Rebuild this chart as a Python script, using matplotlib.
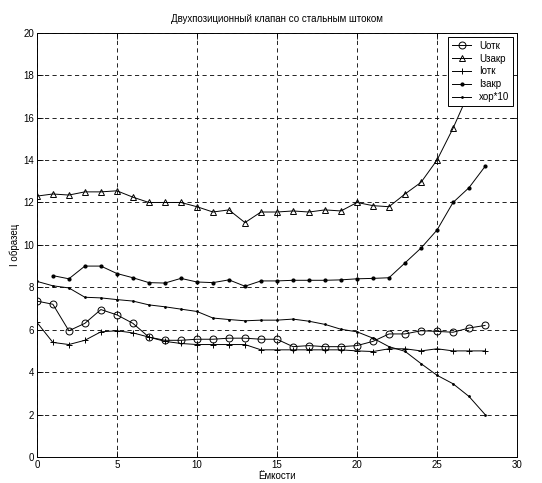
import numpy as np
import matplotlib
matplotlib.use("Agg")
import matplotlib.pyplot as plt

# Values (x = 0..28)
x = np.arange(29)

u_otk = [7.35, 7.2, 5.95, 6.3, 6.95, 6.7, 6.3, 5.65, 5.5, 5.5,
         5.55, 5.55, 5.6, 5.6, 5.55, 5.55, 5.2, 5.25, 5.2, 5.2,
         5.25, 5.45, 5.8, 5.8, 5.95, 5.92, 5.88, 6.08, 6.2]
u_zakr = [12.3, 12.4, 12.35, 12.5, 12.5, 12.55, 12.25, 12.0, 12.0, 12.0,
          11.8, 11.55, 11.65, 11.05, 11.55, 11.55, 11.6, 11.55, 11.65, 11.6,
          12.0, 11.85, 11.8, 12.4, 12.95, 14.0, 15.5, 17.2, 18.8]
i_otk = [6.35, 5.4, 5.3, 5.5, 5.9, 5.95, 5.85, 5.65, 5.45, 5.35,
         5.3, 5.3, 5.3, 5.3, 5.05, 5.05, 5.05, 5.05, 5.05, 5.05,
         5.0, 4.97, 5.1, 5.1, 5.0, 5.1, 5.0, 5.0, 5.0]
i_zakr = [np.nan, 8.55, 8.4, 9.0, 9.0, 8.65, 8.45, 8.22, 8.2, 8.42,
          8.25, 8.22, 8.35, 8.05, 8.3, 8.3, 8.33, 8.33, 8.33, 8.35,
          8.4, 8.42, 8.45, 9.15, 9.85, 10.7, 12.0, 12.7, 13.7]
xor10 = [8.28, 8.07, 7.97, 7.53, 7.5, 7.42, 7.35, 7.17, 7.08, 6.97,
         6.86, 6.55, 6.48, 6.42, 6.45, 6.45, 6.5, 6.4, 6.25, 6.02,
         5.9, 5.6, 5.2, 4.98, 4.4, 3.85, 3.45, 2.85, 2.0]

plt.rcParams["font.family"] = ["Liberation Sans", "DejaVu Sans"]
plt.rcParams["font.size"] = 7

fig = plt.figure(figsize=(5.42, 4.83), dpi=100)
ax = fig.add_axes([0.068, 0.054, 0.886, 0.878])

lw = 0.7
ax.plot(x, u_otk, color="k", ls="-", marker="o", lw=lw, ms=5, mfc="none", mew=0.7, label="Uотк")
ax.plot(x, u_zakr, color="k", ls="-", marker="^", lw=lw, ms=5, mfc="none", mew=0.7, label="Uзакр")
ax.plot(x, i_otk, color="k", ls="-", marker="+", lw=lw, ms=5, mew=0.7, label="Iотк")
ax.plot(x, i_zakr, color="k", ls="-", marker=".", lw=lw, ms=4, label="Iзакр")
ax.plot(x, xor10, color="k", ls="-", marker=".", lw=lw, ms=2, label="xор*10")

ax.set_xlim(0, 30)
ax.set_ylim(0, 20)
ax.set_xticks(range(0, 31, 5))
ax.set_yticks(range(0, 21, 2))
ax.tick_params(direction="in", top=True, right=True, length=4, width=0.6, pad=2)
ax.grid(True, color="black", linestyle=(0, (5, 4)), linewidth=0.6)
for s in ax.spines.values():
    s.set_linewidth(0.7)

ax.set_title("Двухпозиционный клапан со стальным штоком", fontsize=7, pad=8)
ax.set_xlabel("Ёмкости", labelpad=1)
ax.set_ylabel("I образец", labelpad=2)

leg = ax.legend(loc="upper right", fontsize=7, frameon=True, fancybox=False,
                edgecolor="black", framealpha=1, handlelength=2.0,
                borderaxespad=0.4, labelspacing=0.3)
leg.get_frame().set_linewidth(0.7)

fig.savefig("out.png", dpi=100)
